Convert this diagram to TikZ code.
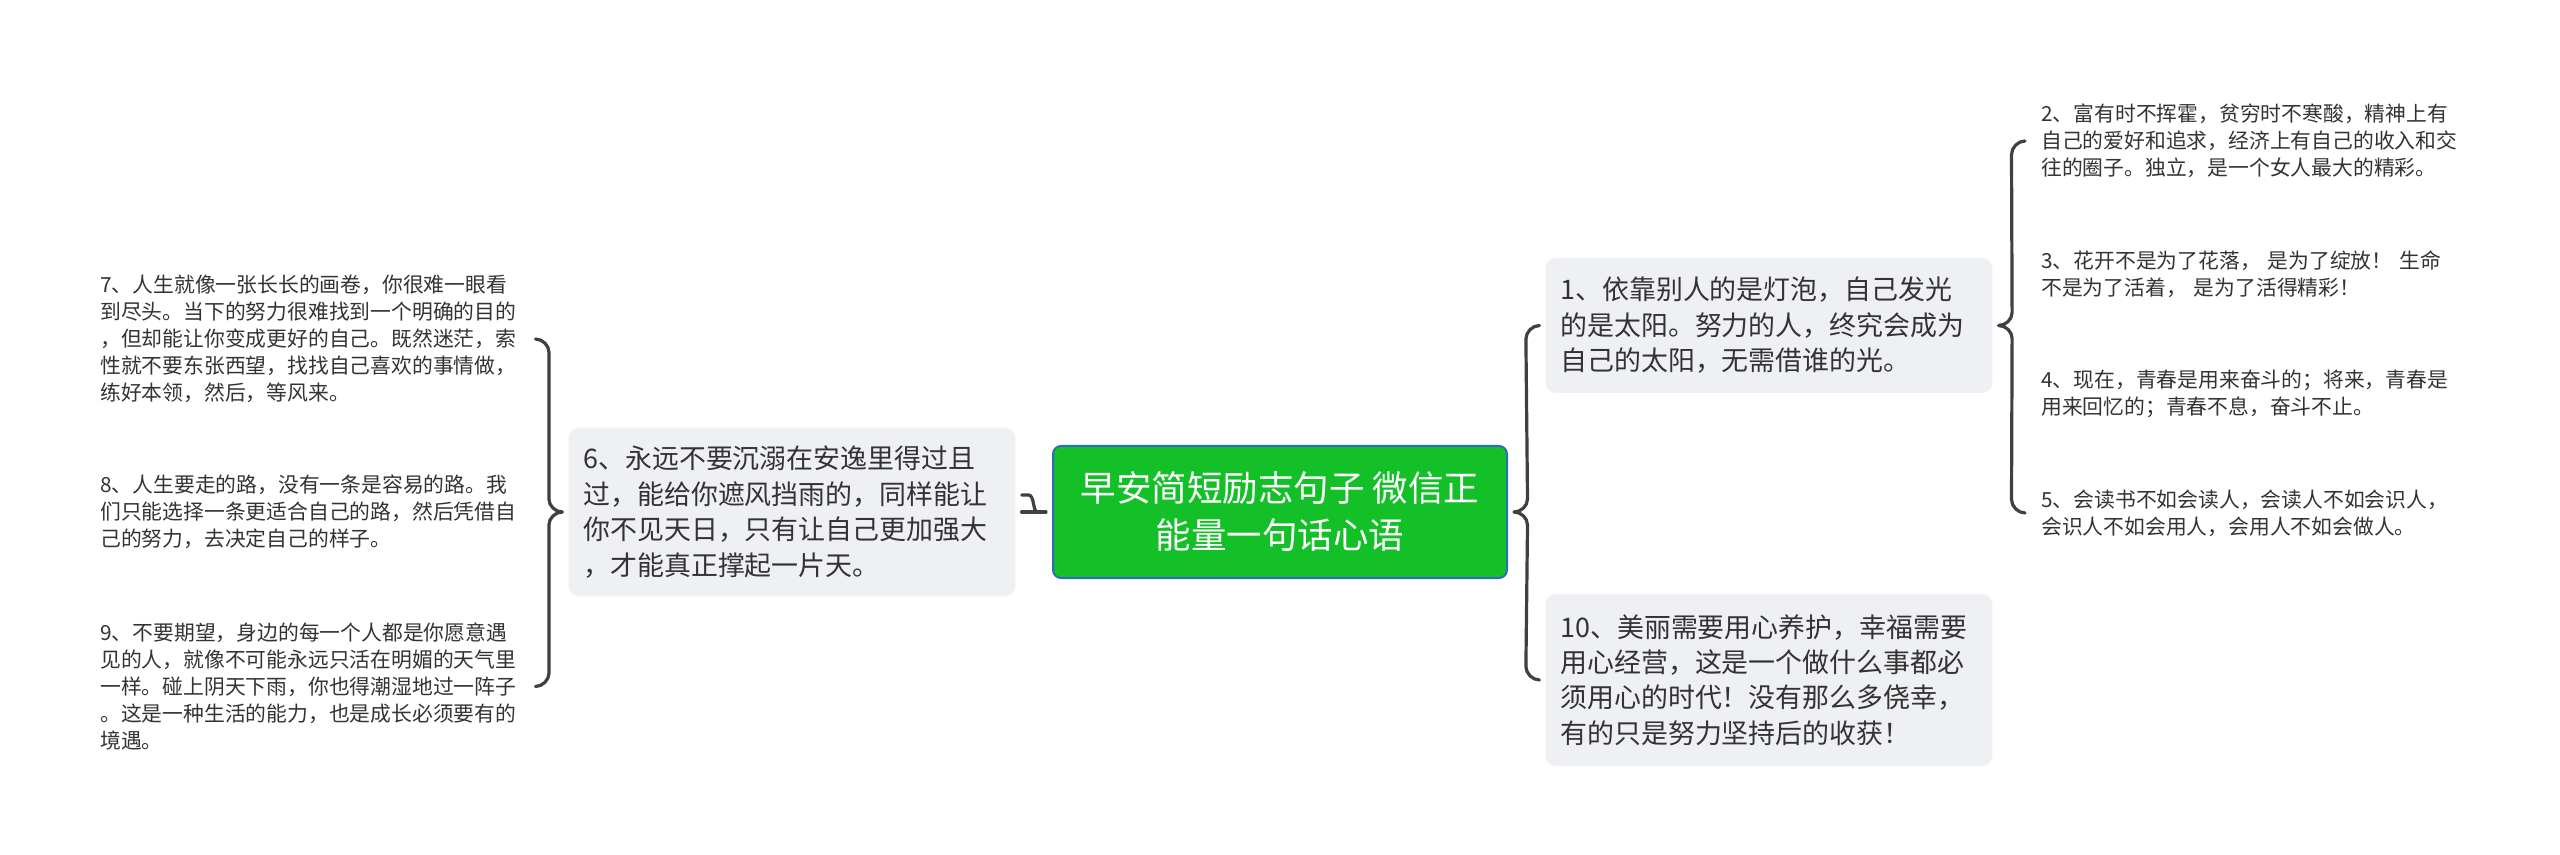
\documentclass[tikz,border=0pt]{standalone}
\usepackage{fontspec}
\setmainfont{Noto Sans CJK SC}
\usetikzlibrary{calc}
\definecolor{rootgreen}{RGB}{20,192,40}
\definecolor{rootborder}{RGB}{43,110,190}
\definecolor{boxgray}{RGB}{238,240,243}
\definecolor{txt}{RGB}{51,51,51}
\definecolor{linegray}{RGB}{64,64,64}
\tikzset{
  rootbox/.style={draw=rootborder, line width=1.5pt, fill=rootgreen, rounded corners=6pt, text=white, align=center, minimum width=340.5pt, minimum height=99pt, inner sep=0pt, font=\fontsize{26.6pt}{35.25pt}\selectfont},
  midbox/.style={fill=boxgray, rounded corners=7.5pt, text=txt, align=left, minimum width=335pt, inner xsep=11pt, inner ysep=0pt, text width=313pt, font=\fontsize{20.2pt}{26.6pt}\selectfont},
  leaf/.style={text=txt, align=left, inner xsep=7.5pt, inner ysep=0pt, text width=323.25pt, font=\fontsize{15.6pt}{20.25pt}\selectfont},
  leftleaf/.style={leaf, text width=314.25pt},
  bracestyle/.style={draw=linegray, line width=2.4pt, line cap=round, line join=round}
}
\newcommand\mybrace[4]{%
  \draw[bracestyle] (#2) .. controls +({-7*(#4)},0) and +(0,-7) .. ($(#2)+({-13.5*(#4)},13.5)$) -- ($(#1)+({13.5*(#4)},-13)$) .. controls +(0,7) and +({7*(#4)},0) .. (#1) .. controls +({7*(#4)},0) and +(0,-7) .. ($(#1)+({13.5*(#4)},13)$) -- ($(#3)+({-13.5*(#4)},-13.5)$) .. controls +(0,7) and +({-7*(#4)},0) .. (#3);}
\begin{document}
\begin{tikzpicture}[x=0.75pt,y=-0.75pt]
\useasboundingbox (0,0) rectangle (2560,855);
\fill[white] (0,0) rectangle (2560,855);
% root
\node[rootbox] (root) at (1280,512) {早安简短励志句子 微信正\\能量一句话心语};
% level 1
\node[midbox, minimum height=126pt] (n6) at (792,512) {6、永远不要沉溺在安逸里得过且\\过，能给你遮风挡雨的，同样能让\\你不见天日，只有让自己更加强大\\，才能真正撑起一片天。};
\node[midbox, minimum height=101.25pt] (n1) at (1769,325.5) {1、依靠别人的是灯泡，自己发光\\的是太阳。努力的人，终究会成为\\自己的太阳，无需借谁的光。};
\node[midbox, minimum height=129pt] (n10) at (1769,680) {10、美丽需要用心养护，幸福需要\\用心经营，这是一个做什么事都必\\须用心的时代！没有那么多侥幸，\\有的只是努力坚持后的收获！};
% left leaves
\node[leftleaf, anchor=west] (n7) at (90,339) {7、人生就像一张长长的画卷，你很难一眼看\\到尽头。当下的努力很难找到一个明确的目的\\，但却能让你变成更好的自己。既然迷茫，索\\性就不要东张西望，找找自己喜欢的事情做，\\练好本领，然后，等风来。};
\node[leftleaf, anchor=west] (n8) at (90,512) {8、人生要走的路，没有一条是容易的路。我\\们只能选择一条更适合自己的路，然后凭借自\\己的努力，去决定自己的样子。};
\node[leftleaf, anchor=west] (n9) at (90,686.5) {9、不要期望，身边的每一个人都是你愿意遇\\见的人，就像不可能永远只活在明媚的天气里\\一样。碰上阴天下雨，你也得潮湿地过一阵子\\。这是一种生活的能力，也是成长必须要有的\\境遇。};
% right leaves
\node[leaf, anchor=west] (n2) at (2031,141) {2、富有时不挥霍，贫穷时不寒酸，精神上有\\自己的爱好和追求，经济上有自己的收入和交\\往的圈子。独立，是一个女人最大的精彩。};
\node[leaf, anchor=west] (n3) at (2031,274) {3、花开不是为了花落， 是为了绽放！ 生命\\不是为了活着， 是为了活得精彩！};
\node[leaf, anchor=west] (n4) at (2031,394) {4、现在，青春是用来奋斗的；将来，青春是\\用来回忆的；青春不息，奋斗不止。};
\node[leaf, anchor=west] (n5) at (2031,513) {5、会读书不如会读人，会读人不如会识人，\\会识人不如会用人，会用人不如会做人。};
% connector coordinates
\coordinate (tR) at ($(root.east)+(6,0)$);
\coordinate (e1) at ($(n1.west)+(-6,0)$);
\coordinate (e10) at ($(n10.west)+(-6,0)$);
\coordinate (tL) at ($(root.west)+(-6,0)$);
\coordinate (e6) at ($(n6.east)+(6,0)$);
\coordinate (t6) at ($(n6.west)+(-6,0)$);
\coordinate (e7) at ($(n7.east)+(6,0)$);
\coordinate (e9) at ($(n9.east)+(6,0)$);
\coordinate (t1) at ($(n1.east)+(6,0)$);
\coordinate (e2) at ($(n2.west)+(-6,0)$);
\coordinate (e5) at ($(n5.west)+(-6,0)$);
% braces
\mybrace{tR}{e1}{e10}{1}
\mybrace{t6}{e7}{e9}{-1}
\mybrace{t1}{e2}{e5}{1}
% single connector root -> n6
\draw[bracestyle] (e6) -- (tL);
\draw[bracestyle] ($(e6)+(0,-17)$) -- ++(7,0) .. controls +(6,0) and +(-5,0) .. ($(e6)+(16,0)$);
\end{tikzpicture}
\end{document}
